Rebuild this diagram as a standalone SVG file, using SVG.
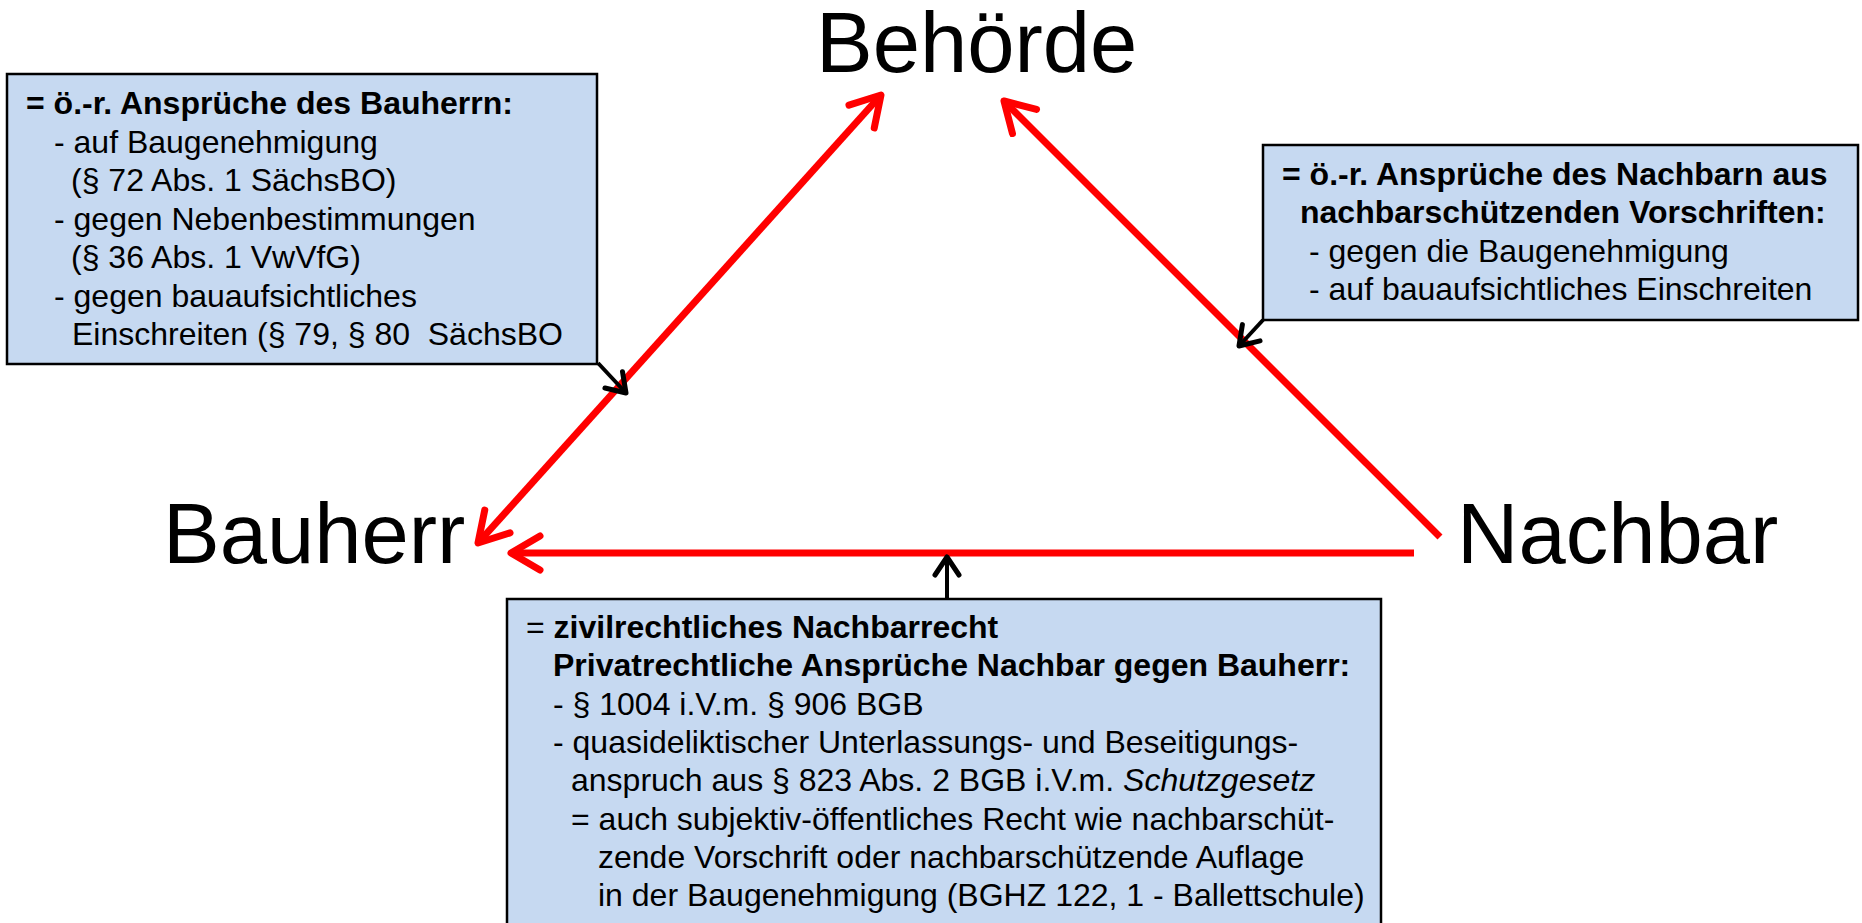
<svg xmlns="http://www.w3.org/2000/svg" width="1862" height="923" viewBox="0 0 1862 923">
<style>
.box{fill:#C6D9F1;stroke:#000;stroke-width:2.5}
.t{font-family:"Liberation Sans",Arial,sans-serif;font-size:32px;fill:#000}
.b{font-weight:bold}
.big{font-family:"Liberation Sans",Arial,sans-serif;font-size:85px;fill:#000}
.red{fill:none;stroke:#FF0000;stroke-width:7}
.blk{fill:none;stroke:#000;stroke-width:4}
</style>
<defs>
<marker id="ra" markerUnits="userSpaceOnUse" viewBox="-40 -25 50 50" markerWidth="50" markerHeight="50" refX="0" refY="0" orient="auto-start-reverse" overflow="visible">
<path d="M-29,-17 L0,0 L-29,17" fill="none" stroke="#FF0000" stroke-width="7" stroke-linecap="round" stroke-linejoin="round"/>
</marker>
<marker id="ba" markerUnits="userSpaceOnUse" viewBox="-30 -20 40 40" markerWidth="40" markerHeight="40" refX="0" refY="0" orient="auto" overflow="visible">
<path d="M-18,-12 L0,0 L-18,12" fill="none" stroke="#000" stroke-width="5" stroke-linecap="round" stroke-linejoin="round"/>
</marker>
</defs>
<rect width="1862" height="923" fill="#fff"/>

<g id="connectors">
<line class="red" x1="478" y1="543" x2="881" y2="95" marker-start="url(#ra)" marker-end="url(#ra)"/>
<line class="red" x1="1440" y1="537" x2="1004" y2="101" marker-end="url(#ra)"/>
<line class="red" x1="1414" y1="553" x2="511" y2="553" marker-end="url(#ra)"/>
<line class="blk" x1="598" y1="363" x2="626" y2="393" marker-end="url(#ba)"/>
<line class="blk" x1="1263" y1="320" x2="1239" y2="346" marker-end="url(#ba)"/>
<line class="blk" x1="947" y1="599" x2="947" y2="557" marker-end="url(#ba)"/>
</g>

<g id="node-behoerde"><text class="big" x="816" y="72">Behörde</text></g>
<g id="node-bauherr"><text class="big" x="163" y="563">Bauherr</text></g>
<g id="node-nachbar"><text class="big" x="1457" y="563">Nachbar</text></g>

<g id="box-bauherr">
<rect class="box" x="7" y="74" width="590" height="290"/>
<text class="t b" x="26" y="114">= ö.-r. Ansprüche des Bauherrn:</text>
<text class="t" x="54" y="153">- auf Baugenehmigung</text>
<text class="t" x="71" y="191">(§ 72 Abs. 1 SächsBO)</text>
<text class="t" x="54" y="230">- gegen Nebenbestimmungen</text>
<text class="t" x="71" y="268">(§ 36 Abs. 1 VwVfG)</text>
<text class="t" x="54" y="307">- gegen bauaufsichtliches</text>
<text class="t" x="72" y="345" xml:space="preserve">Einschreiten (§ 79, § 80  SächsBO</text>
</g>

<g id="box-nachbar">
<rect class="box" x="1263" y="145" width="595" height="175"/>
<text class="t b" x="1282" y="185">= ö.-r. Ansprüche des Nachbarn aus</text>
<text class="t b" x="1300" y="223">nachbarschützenden Vorschriften:</text>
<text class="t" x="1309" y="262">- gegen die Baugenehmigung</text>
<text class="t" x="1309" y="300">- auf bauaufsichtliches Einschreiten</text>
</g>

<g id="box-zivil">
<rect class="box" x="507" y="599" width="874" height="340"/>
<text class="t" x="526" y="638">= <tspan class="b">zivilrechtliches Nachbarrecht</tspan></text>
<text class="t b" x="553" y="676">Privatrechtliche Ansprüche Nachbar gegen Bauherr:</text>
<text class="t" x="553" y="715">- § 1004 i.V.m. § 906 BGB</text>
<text class="t" x="553" y="753">- quasideliktischer Unterlassungs- und Beseitigungs-</text>
<text class="t" x="571" y="791">anspruch aus § 823 Abs. 2 BGB i.V.m. <tspan font-style="italic">Schutzgesetz</tspan></text>
<text class="t" x="571" y="830">= auch subjektiv-öffentliches Recht wie nachbarschüt-</text>
<text class="t" x="598" y="868">zende Vorschrift oder nachbarschützende Auflage</text>
<text class="t" x="598" y="906">in der Baugenehmigung (BGHZ 122, 1 - Ballettschule)</text>
</g>
</svg>
